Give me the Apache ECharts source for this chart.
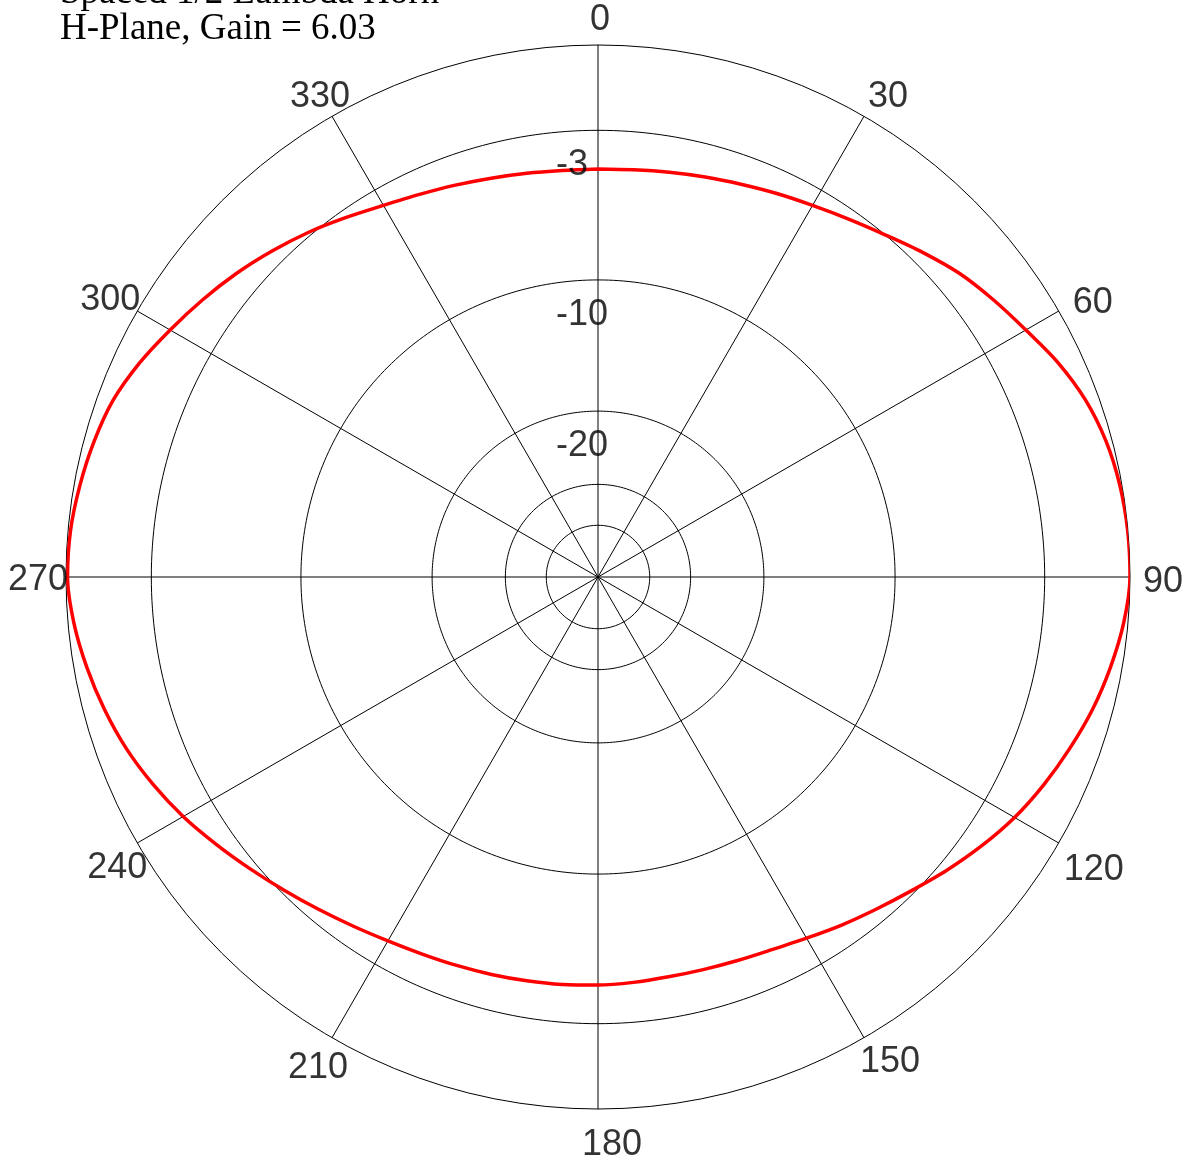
<!DOCTYPE html>
<html>
<head>
<meta charset="utf-8">
<script src="https://cdn.jsdelivr.net/npm/echarts@6/dist/echarts.min.js"></script>
<style>
  html, body { margin: 0; padding: 0; background: #fff; }
  #chart { width: 1191px; height: 1164px; }
</style>
</head>
<body>
<div id="chart"></div>
<script>
// H-plane pattern, dB relative to max, every 5 deg
const angles = [0, 5, 10, 15, 20, 25, 30, 35, 40, 45, 50, 55, 60, 65, 70, 75, 80, 85,
  90, 95, 100, 105, 110, 115, 120, 125, 130, 135, 140, 145, 150, 155, 160, 165, 170, 175,
  180, 185, 190, 195, 200, 205, 210, 215, 220, 225, 230, 235, 240, 245, 250, 255, 260, 265,
  270, 275, 280, 285, 290, 295, 300, 305, 310, 315, 320, 325, 330, 335, 340, 345, 350, 355, 360]
const gainDb = [-4.55, -4.52, -4.43, -4.30, -4.14, -3.93, -3.69, -3.38, -3.00, -2.53, -2.05, -1.66, -1.27, -0.81, -0.44, -0.20, -0.07, -0.01,
  0, -0.14, -0.38, -0.66, -1.00, -1.35, -1.73, -2.18, -2.65, -3.12, -3.52, -3.86, -4.18, -4.42, -4.55, -4.62, -4.64, -4.60,
  -4.55, -4.51, -4.47, -4.41, -4.33, -4.22, -4.05, -3.80, -3.49, -3.13, -2.72, -2.27, -1.80, -1.38, -1.00, -0.69, -0.42, -0.19,
  -0.05, -0.08, -0.19, -0.33, -0.52, -0.86, -1.27, -1.66, -2.05, -2.46, -2.87, -3.30, -3.69, -3.97, -4.18, -4.35, -4.47, -4.55, -4.55]

// grid rings (dB) and the ones that get a label
const ringDb = [-3, -10, -20, -30, -40]
const ringLabels = [-3, -10, -20]
const angleTicks = [0, 30, 60, 90, 120, 150, 180, 210, 240, 270, 300, 330]

const titleLines = ['Spaced 1/2 Lambda Horn', 'H-Plane, Gain = 6.03']

// ARRL log-periodic radial scale: 0.89 per 2 dB
const arrl = db => Math.pow(0.89, -db / 2)

// nudges for the angle labels (the original places them a bit unevenly)
const tickNudge = {
  0: [2, -25], 30: [24, -19], 60: [34, -8], 90: [33, 5],
  120: [35, 27], 150: [26, 24], 180: [14, 36], 210: [-14, 30],
  240: [-20, 25], 270: [-28, 3], 300: [-27, -11], 330: [-12, -19]
}

const chart = echarts.init(document.getElementById('chart'))

const ringSeries = ringDb.map(db => {
  const pts = []
  for (let a = 0; a <= 360; a += 1) pts.push([arrl(db), a])
  return {
    type: 'line',
    coordinateSystem: 'polar',
    data: pts,
    symbol: 'none',
    silent: true,
    lineStyle: { color: '#000', width: 1 },
    z: 1
  }
})

const labelFont = {
  color: '#000',
  fontFamily: 'Liberation Sans',
  fontSize: 36,
  textBorderWidth: 0
}

const option = {
  backgroundColor: '#fff',
  animation: false,
  title: {
    text: titleLines.join('\n'),
    left: 60,
    top: -25,
    padding: 0,
    textStyle: {
      fontFamily: 'Liberation Serif',
      fontSize: 37,
      fontWeight: 'normal',
      color: '#000',
      lineHeight: 36
    }
  },
  polar: {
    center: [598, 577],
    radius: 532
  },
  angleAxis: {
    type: 'value',
    min: 0,
    max: 360,
    interval: 30,
    startAngle: 90,
    clockwise: true,
    axisLine: { show: true, lineStyle: { color: '#000', width: 1 } },
    axisTick: { show: false },
    axisLabel: { show: false },
    splitLine: { show: true, lineStyle: { color: '#000', width: 1 } }
  },
  radiusAxis: {
    type: 'value',
    min: 0,
    max: 1,
    axisLine: { show: false },
    axisTick: { show: false },
    axisLabel: { show: false },
    splitLine: { show: false }
  },
  series: [
    ...ringSeries,
    {
      type: 'line',
      coordinateSystem: 'polar',
      data: angles.map((a, i) => [arrl(gainDb[i]), a]),
      symbol: 'none',
      smooth: 0.3,
      lineStyle: { color: '#ff0000', width: 3.5 },
      z: 3
    },
    {
      // ring labels
      type: 'scatter',
      coordinateSystem: 'polar',
      data: ringLabels.map(db => [arrl(db), 0, db]),
      symbolSize: 0,
      itemStyle: { color: '#000' },
      silent: true,
      z: 5,
      label: {
        show: true,
        position: 'top',
        distance: 0,
        align: 'left',
        verticalAlign: 'middle',
        offset: [-42, 35],
        ...labelFont,
        formatter: p => String(p.value[2])
      }
    },
    {
      // angle labels
      type: 'scatter',
      coordinateSystem: 'polar',
      data: angleTicks.map(a => ({
        value: [1, a],
        label: { offset: tickNudge[a] }
      })),
      symbolSize: 0,
      itemStyle: { color: '#000' },
      silent: true,
      z: 5,
      label: {
        show: true,
        position: 'top',
        distance: 0,
        align: 'center',
        verticalAlign: 'middle',
        ...labelFont,
        formatter: p => String(p.value[1])
      }
    }
  ]
}

chart.setOption(option)
</script>
</body>
</html>
